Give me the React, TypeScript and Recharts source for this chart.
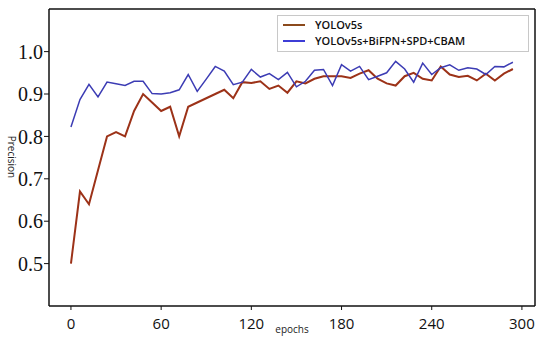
import React from 'react';
import { LineChart, Line, XAxis, YAxis, Legend, ReferenceLine } from 'recharts';

// epochs sampled every 6
const epochs = [
  0, 6, 12, 18, 24, 30, 36, 42, 48, 54, 60, 66, 72, 78, 84, 90, 96, 102, 108, 114,
  120, 126, 132, 138, 144, 150, 156, 162, 168, 174, 180, 186, 192, 198, 204, 210,
  216, 222, 228, 234, 240, 246, 252, 258, 264, 270, 276, 282, 288, 294,
];

const yolov5s = [
  0.5, 0.67, 0.64, 0.72, 0.8, 0.81, 0.8, 0.86, 0.9, 0.88, 0.86, 0.87, 0.8, 0.87, 0.88,
  0.89, 0.9, 0.91, 0.89, 0.928, 0.926, 0.93, 0.912, 0.92, 0.903, 0.93, 0.925, 0.936,
  0.942, 0.942, 0.942, 0.938, 0.948, 0.956, 0.936, 0.925, 0.92, 0.942, 0.95, 0.936,
  0.932, 0.965, 0.946, 0.94, 0.943, 0.932, 0.948, 0.932, 0.948, 0.959,
];

const improved = [
  0.822, 0.887, 0.923, 0.893, 0.928, 0.924, 0.92, 0.93, 0.93, 0.901, 0.9, 0.903, 0.91,
  0.946, 0.906, 0.935, 0.965, 0.954, 0.922, 0.928, 0.958, 0.94, 0.948, 0.934, 0.951,
  0.917, 0.93, 0.956, 0.958, 0.92, 0.969, 0.954, 0.965, 0.934, 0.942, 0.95, 0.977,
  0.959, 0.928, 0.973, 0.946, 0.962, 0.969, 0.956, 0.962, 0.959, 0.946, 0.965, 0.964,
  0.975,
];

const xTicks = [0, 60, 120, 180, 240, 300];
const yTicks = [0.5, 0.6, 0.7, 0.8, 0.9, 1.0];
const xDomain = [-14.6, 308.7];
const yDomain = [0.4, 1.1005];

const seriesNames = ['YOLOv5s', 'YOLOv5s+BiFPN+SPD+CBAM'];
const lineColors = ['#9c3218', '#3c3cb4'];
const legendColors = ['#8b4a1c', '#3d3dd6'];

const chartData = epochs.map((epoch, i) => ({
  epoch,
  base: yolov5s[i],
  improved: improved[i],
}));

const PrecisionLabel = () => (
  <text
    x={11}
    y={157}
    transform="rotate(90, 11, 157)"
    textAnchor="middle"
    dominantBaseline="middle"
    style={{ fontFamily: 'Open Sans, sans-serif', fontSize: 10, fill: '#222' }}
  >
    Precision
  </text>
);

const LegendBox = () => (
  <div style={styles.legend}>
    {seriesNames.map((name, i) => (
      <div key={name} style={styles.legendRow}>
        <span style={{ ...styles.legendLine, background: legendColors[i] }} />
        <span>{name}</span>
      </div>
    ))}
  </div>
);

export default function App() {
  return (
    <div style={styles.container}>
      <LineChart
        width={550}
        height={346}
        data={chartData}
        margin={{ top: 9, right: 15, left: 0, bottom: 0 }}
      >
        <XAxis
          type="number"
          dataKey="epoch"
          domain={xDomain}
          allowDataOverflow
          ticks={xTicks}
          height={40}
          tickSize={4}
          tickMargin={8}
          axisLine={{ stroke: '#111', strokeWidth: 1.5 }}
          tickLine={{ stroke: '#111' }}
          tick={{ fontFamily: 'Open Sans, sans-serif', fontSize: 15, fill: '#111' }}
          label={{
            value: 'epochs',
            position: 'insideBottom',
            offset: 13,
            style: { fontFamily: 'Open Sans, sans-serif', fontSize: 10, fill: '#222' },
          }}
        />
        <YAxis
          type="number"
          domain={yDomain}
          allowDataOverflow
          ticks={yTicks}
          width={49}
          tickSize={5}
          tickMargin={1}
          tickFormatter={(v: number) => v.toFixed(1)}
          axisLine={{ stroke: '#111', strokeWidth: 1.5 }}
          tickLine={{ stroke: '#111' }}
          tick={{ fontFamily: 'Liberation Serif, Times New Roman, serif', fontSize: 20, fill: '#111' }}
          label={<PrecisionLabel />}
        />
        {/* box border on top and right */}
        <ReferenceLine y={yDomain[1]} stroke="#111" strokeWidth={1.5} />
        <ReferenceLine x={xDomain[1]} stroke="#111" strokeWidth={1.5} />
        <Legend
          layout="vertical"
          align="center"
          verticalAlign="middle"
          content={<LegendBox />}
          wrapperStyle={{ position: 'absolute', left: 277, top: 15, width: 252, height: 37 }}
        />
        <Line
          type="linear"
          dataKey="base"
          name={seriesNames[0]}
          stroke={lineColors[0]}
          strokeWidth={2}
          dot={false}
          isAnimationActive={false}
        />
        <Line
          type="linear"
          dataKey="improved"
          name={seriesNames[1]}
          stroke={lineColors[1]}
          strokeWidth={1.5}
          dot={false}
          isAnimationActive={false}
        />
      </LineChart>
    </div>
  );
}

const styles = {
  container: {
    position: 'absolute',
    left: 0,
    top: 0,
    width: 550,
    height: 346,
    background: '#ffffff',
  } as React.CSSProperties,
  legend: {
    width: 252,
    height: 37,
    boxSizing: 'border-box',
    border: '1px solid #c8c8c8',
    background: '#ffffff',
    padding: '1px 0 0 5px',
    fontFamily: 'Open Sans, sans-serif',
    fontSize: 11,
    fontWeight: 600,
    color: '#111',
    lineHeight: '16px',
  } as React.CSSProperties,
  legendRow: {
    display: 'flex',
    alignItems: 'center',
    height: 16,
  } as React.CSSProperties,
  legendLine: {
    display: 'inline-block',
    width: 22,
    height: 2,
    marginRight: 10,
  } as React.CSSProperties,
};
